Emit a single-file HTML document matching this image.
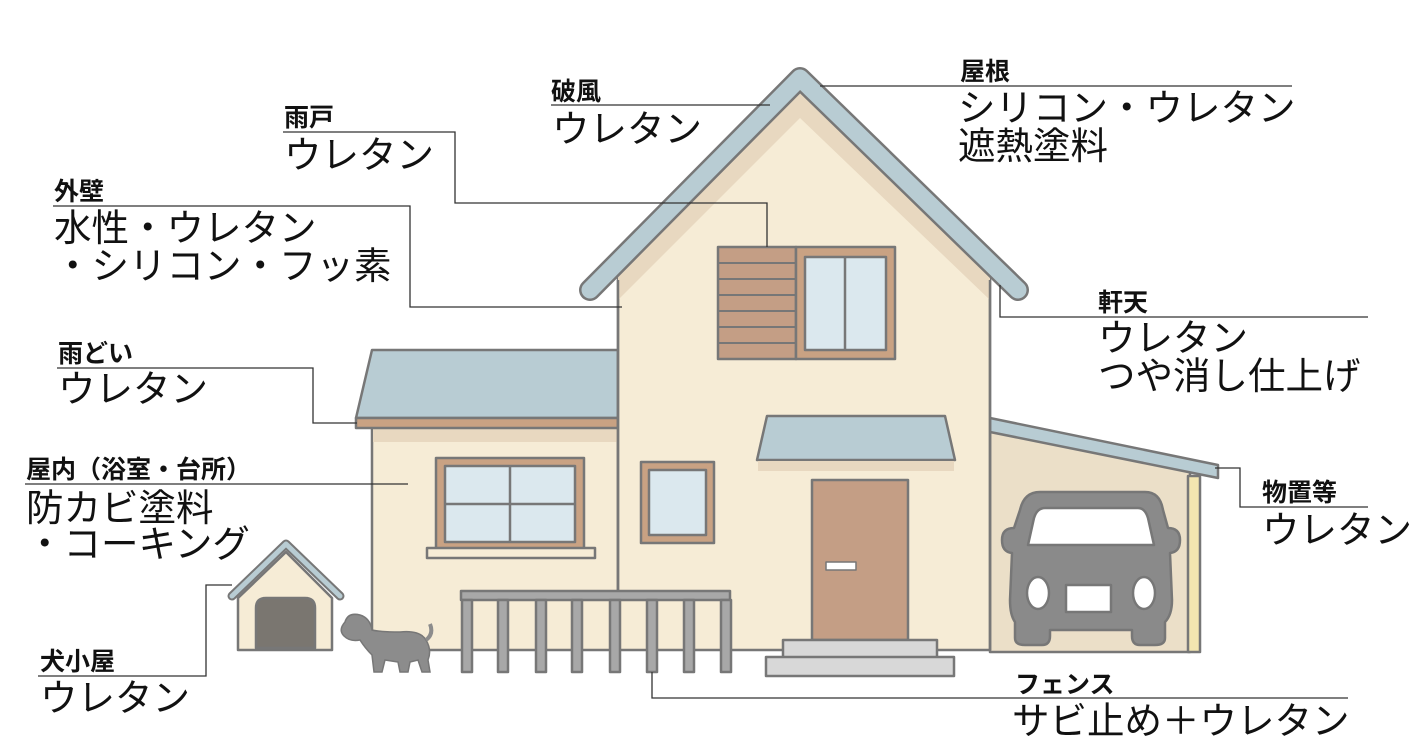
<!DOCTYPE html>
<html><head><meta charset="utf-8"><style>
html,body{margin:0;padding:0;background:#fff;}
svg{display:block;}
text{font-family:"Liberation Sans","Noto Sans CJK JP",sans-serif;fill:#111;}
.b{font-weight:bold;font-size:25px;}
.r{font-size:37.5px;}
</style></head><body>
<svg width="1424" height="752" viewBox="0 0 1424 752" xmlns="http://www.w3.org/2000/svg">
<g stroke="#777" stroke-width="2.5" stroke-linejoin="round">
<!-- carport wall -->
<polygon points="990,425 1190,467 1190,652 990,652" fill="#ebdfc8"/>
<rect x="1188" y="476" width="12" height="176" fill="#f3e6b0"/>
<polygon points="990,418 1218,465 1218,478 990,432" fill="#b8ccd3"/>
<!-- car -->
<path d="M1040,492 L1145,492 Q1160,492 1163,510 L1168,528 Q1180,528 1180,540 Q1180,552 1170,553 L1172,600 Q1172,615 1165,622 L1165,638 Q1165,645 1155,645 L1140,645 Q1132,645 1132,636 L1132,630 L1050,630 L1050,636 Q1050,645 1042,645 L1025,645 Q1015,645 1015,638 L1015,622 Q1010,615 1010,600 L1012,553 Q1002,552 1002,540 Q1002,528 1014,528 L1020,510 Q1024,492 1040,492Z" fill="#8a8a8a"/>
<path d="M1045,508 L1138,508 Q1145,508 1148,518 L1154,545 L1028,545 L1034,518 Q1037,508 1045,508Z" fill="#fff"/>
<ellipse cx="1038" cy="593" rx="11" ry="16" fill="#fff"/>
<ellipse cx="1144" cy="593" rx="11" ry="16" fill="#fff"/>
<rect x="1066" y="585" width="45" height="27" fill="#fff"/>
<!-- left wing -->
<rect x="372" y="425" width="246" height="225" fill="#f6ecd6"/>
<rect x="373" y="428" width="244" height="14" fill="#e8d8c0" stroke="none"/>
<polygon points="372,350 618,350 618,418 356,418" fill="#b8ccd3"/>
<rect x="356" y="418" width="262" height="10" fill="#c9a283"/>
<!-- main body -->
<polygon points="618,270 800,88 990,270 990,650 618,650" fill="#f6ecd6"/>
<polygon points="618,268 800,86 990,268 990,300 800,118 618,300" fill="#e8d8c0" stroke="none"/>
<line x1="618" y1="280" x2="618" y2="650"/>
<line x1="990" y1="280" x2="990" y2="650"/>
<path d="M590,290 L800,78 L1018,290" fill="none" stroke="#777" stroke-width="22" stroke-linecap="round"/>
<path d="M590,290 L800,78 L1018,290" fill="none" stroke="#b8ccd3" stroke-width="17" stroke-linecap="round"/>
<!-- shutter + upper window -->
<rect x="718" y="247" width="78" height="112" fill="#c49e85"/>
<g stroke-width="2"><line x1="718" y1="263" x2="796" y2="263"/><line x1="718" y1="279" x2="796" y2="279"/><line x1="718" y1="295" x2="796" y2="295"/><line x1="718" y1="311" x2="796" y2="311"/><line x1="718" y1="327" x2="796" y2="327"/><line x1="718" y1="343" x2="796" y2="343"/></g>
<rect x="796" y="247" width="99" height="112" fill="#c9a283"/>
<rect x="805" y="257" width="81" height="93" fill="#dbe8ee"/>
<line x1="845" y1="257" x2="845" y2="350"/>
<!-- left window -->
<rect x="436" y="458" width="148" height="92" fill="#c9a283"/>
<rect x="445" y="466" width="130" height="76" fill="#dbe8ee"/>
<line x1="510" y1="466" x2="510" y2="542"/><line x1="445" y1="504" x2="575" y2="504"/>
<rect x="427" y="548" width="168" height="10" fill="#f6ecd6"/>
<!-- small window -->
<rect x="641" y="462" width="73" height="81" fill="#c9a283"/>
<rect x="649" y="470" width="57" height="65" fill="#dbe8ee"/>
<!-- canopy -->
<polygon points="767,416 945,416 955,460 757,460" fill="#b8ccd3"/>
<rect x="758" y="461" width="196" height="10" fill="#e8d8c0" stroke="none"/>
<!-- door -->
<rect x="812" y="480" width="96" height="160" fill="#c49e85"/>
<rect x="826" y="562" width="30" height="8" fill="#fff" stroke-width="1.5"/>
<rect x="783" y="640" width="154" height="18" fill="#d8d8d8"/>
<rect x="766" y="657" width="188" height="19" fill="#d8d8d8"/>
<!-- fence -->
<g fill="#a8a8a8">
<rect x="461" y="591" width="269" height="9"/>
<rect x="462" y="600" width="10" height="72"/><rect x="498" y="600" width="10" height="72"/><rect x="536" y="600" width="10" height="72"/><rect x="572" y="600" width="10" height="72"/><rect x="610" y="600" width="10" height="72"/><rect x="647" y="600" width="10" height="72"/><rect x="684" y="600" width="10" height="72"/><rect x="721" y="600" width="10" height="72"/>
</g>
<!-- doghouse -->
<polygon points="238,598 286,552 332,598 332,650 238,650" fill="#f6ecd6"/>
<path d="M232,596 L286,544 L340,596" fill="none" stroke="#777" stroke-width="9" stroke-linecap="round"/>
<path d="M232,596 L286,544 L340,596" fill="none" stroke="#b8ccd3" stroke-width="5" stroke-linecap="round"/>
<path d="M256,648 L256,608 Q256,598 266,598 L305,598 Q315,598 315,608 L315,648Z" fill="#7a7670"/>
</g>
<!-- dog -->
<g fill="#8c8c8c" stroke="#777" stroke-width="1.5">
<path d="M345,622 Q348,612 360,615 Q370,618 372,630 Q380,632 400,632 Q420,630 426,640 Q432,650 428,660 L430,672 L422,672 L418,660 L410,662 L408,672 L400,672 L398,662 L385,660 L382,672 L374,672 L372,655 Q365,648 360,640 Q350,642 344,636 Q338,630 345,622Z"/>
<path d="M426,640 Q434,634 430,624" fill="none" stroke="#8c8c8c" stroke-width="4"/>
</g>
<!-- leader lines -->
<g stroke="#333" stroke-width="1.3" fill="none">
<polyline points="551,105 770,105"/>
<polyline points="820,86 1292,86"/>
<polyline points="283,132 455,132 455,203 767,203 767,247"/>
<polyline points="53,206 410,206 410,307 622,307"/>
<polyline points="57,368 313,368 313,423 357,423"/>
<polyline points="25,484 408,484"/>
<polyline points="38,676 206,676 206,585 232,585"/>
<polyline points="1368,317 1000,317 1000,285"/>
<polyline points="1368,507 1240,507 1240,468 1215,468"/>
<polyline points="1348,698 652,698 652,672"/>
</g>
<!-- labels -->
<text class="b" x="551" y="100">破風</text>
<text class="r" x="552" y="142">ウレタン</text>
<text class="b" x="960" y="80">屋根</text>
<text class="r" x="958" y="121">シリコン・ウレタン</text>
<text class="r" x="958" y="159">遮熱塗料</text>
<text class="b" x="284" y="126">雨戸</text>
<text class="r" x="284" y="168">ウレタン</text>
<text class="b" x="54" y="200">外壁</text>
<text class="r" x="54" y="241">水性・ウレタン</text>
<text class="r" x="54" y="279">・シリコン・フッ素</text>
<text class="b" x="58" y="362">雨どい</text>
<text class="r" x="58" y="402">ウレタン</text>
<text class="b" x="26" y="478">屋内（浴室・台所）</text>
<text class="r" x="26" y="521">防カビ塗料</text>
<text class="r" x="26" y="557">・コーキング</text>
<text class="b" x="40" y="670">犬小屋</text>
<text class="r" x="40" y="711">ウレタン</text>
<text class="b" x="1098" y="311">軒天</text>
<text class="r" x="1098" y="351">ウレタン</text>
<text class="r" x="1098" y="389">つや消し仕上げ</text>
<text class="b" x="1262" y="501">物置等</text>
<text class="r" x="1262" y="543">ウレタン</text>
<text class="b" x="1015" y="693">フェンス</text>
<text class="r" x="1012" y="734">サビ止め＋ウレタン</text>
</svg>
</body></html>
